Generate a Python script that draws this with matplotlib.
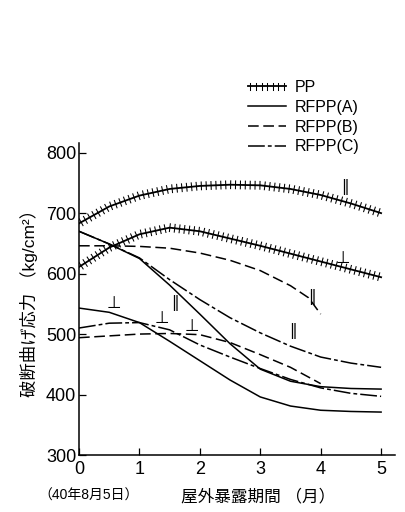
import numpy as np
import matplotlib.pyplot as plt
import matplotlib.patheffects as pe

plt.rcParams['font.family'] = ['Liberation Sans', 'Noto Sans CJK JP', 'DejaVu Sans']

# months of outdoor exposure
months = [0, 0.5, 1, 1.5, 2, 2.5, 3, 3.5, 4, 4.5, 5]
months_b = [0, 0.5, 1, 1.5, 2, 2.5, 3, 3.5, 4]
months_b_par = [0, 0.5, 1, 1.5, 2, 2.5, 3, 3.5, 3.8, 4]

# flexural strength at break, kg/cm2
pp_par = [683, 711, 729, 740, 745, 747, 746, 740, 730, 716, 700]
pp_perp = [611, 643, 665, 676, 670, 658, 646, 633, 620, 607, 594]
a_par = [670, 649, 625, 581, 533, 484, 442, 422, 413, 410, 409]
a_perp = [543, 536, 519, 488, 456, 424, 396, 381, 374, 372, 371]
b_par = [646, 646, 645, 642, 634, 622, 605, 580, 560, 533]
b_perp = [494, 497, 500, 501, 499, 486, 466, 445, 418]
c_par = [670, 649, 626, 590, 557, 527, 502, 480, 462, 452, 445]
c_perp = [510, 518, 519, 507, 482, 462, 443, 425, 411, 402, 397]

par = '\u2016'
perp = '\u22a5'
# curve labels: text, x, y
marks = [(par, 4.4, 744), (perp, 4.37, 626), (par, 3.86, 562),
         (par, 1.59, 552), (perp, 0.58, 551), (perp, 1.37, 526),
         (perp, 1.87, 513), (par, 3.54, 505)]

fig = plt.figure(figsize=(4.05, 5.12), dpi=100)
ax = fig.add_axes([79/405, 1-455/512, 316/405, 312/512])

lw = 1.1
hatch = [pe.TickedStroke(spacing=3.5, angle=90, length=0.8, linewidth=0.75),
         pe.TickedStroke(spacing=3.5, angle=-90, length=0.8, linewidth=0.75),
         pe.Normal()]
dash_b = (0, (7, 3))
dash_c = (0, (11, 2, 2.5, 2))

ax.plot(months, pp_par, color='black', lw=1.3, path_effects=hatch, label='PP')
ax.plot(months, pp_perp, color='black', lw=1.3, path_effects=hatch)
ax.plot(months, a_par, color='black', lw=lw, label='RFPP(A)')
ax.plot(months, a_perp, color='black', lw=lw)
ax.plot(months_b_par, b_par, color='black', lw=lw, linestyle=dash_b, label='RFPP(B)')
ax.plot(months_b, b_perp, color='black', lw=lw, linestyle=dash_b)
ax.plot(months, c_par, color='black', lw=lw, linestyle=dash_c, label='RFPP(C)')
ax.plot(months, c_perp, color='black', lw=lw, linestyle=dash_c)

for t, x, y in marks:
    fs = 12 if t == perp else 11
    ax.text(x, y, t, fontsize=fs, ha='center', va='center',
            family=['DejaVu Sans'])

ax.set_xlim(0, 5.23)
ax.set_ylim(300, 816)
ax.set_xticks([0, 1, 2, 3, 4, 5])
ax.set_yticks([300, 400, 500, 600, 700, 800])
ax.tick_params(direction='in', length=5, width=0.9, labelsize=13)
ax.tick_params(axis='y', pad=2)
ax.tick_params(axis='x', pad=4)
for s in ['top', 'right']:
    ax.spines[s].set_visible(False)
for s in ['left', 'bottom']:
    ax.spines[s].set_linewidth(1.1)

ax.set_ylabel('破断曲げ応力 （kg/cm²）', fontsize=12.5, labelpad=6)
fig.text(258/405, 1-496/512, '屋外暴露期間 （月）', fontsize=12, ha='center', va='center')
fig.text(38/405, 1-496/512, '（40年8月5日）', fontsize=10, ha='left', va='center')

ax.legend(loc='upper left', bbox_to_anchor=(248/405, 1-80/512),
          bbox_transform=fig.transFigure, frameon=False, handlelength=2.4,
          handletextpad=0.5, labelspacing=0.3, borderaxespad=0, borderpad=0,
          fontsize=11.5)

fig.savefig('out.png', dpi=100)
